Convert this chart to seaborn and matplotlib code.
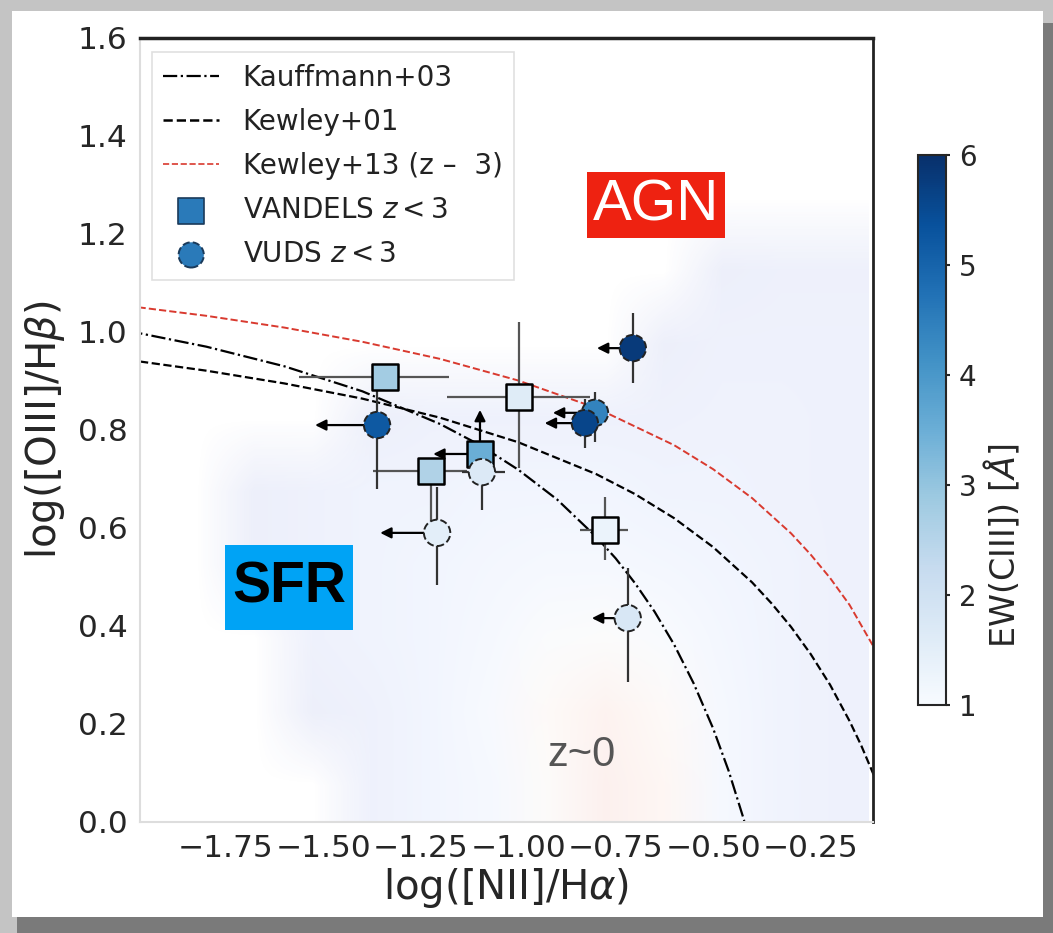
import numpy as np
import matplotlib
matplotlib.use("Agg")
import matplotlib.pyplot as plt
import matplotlib.patches as mpatches
from matplotlib.colors import Normalize
from matplotlib.cm import ScalarMappable
from matplotlib.lines import Line2D
import seaborn as sns
import pandas as pd

# ── Demarcation lines ──────────────────────────────────────────────────────
kauff_x = [-2.0, -1.8, -1.6, -1.4, -1.2, -1.1, -1.0, -0.9, -0.8, -0.75, -0.7,
           -0.65, -0.6, -0.55, -0.5, -0.46, -0.42]
kauff_y = [1.002, 0.970, 0.930, 0.879, 0.812, 0.770, 0.719, 0.658, 0.582, 0.538,
           0.487, 0.429, 0.362, 0.283, 0.191, 0.104, 0.002]
kew01_x = [-2.0, -1.8, -1.6, -1.4, -1.2, -1.0, -0.8, -0.7, -0.6, -0.5, -0.4,
           -0.35, -0.3, -0.25, -0.2, -0.15, -0.12, -0.08]
kew01_y = [0.943, 0.921, 0.895, 0.864, 0.825, 0.775, 0.710, 0.669, 0.620, 0.561,
           0.489, 0.446, 0.398, 0.343, 0.280, 0.206, 0.156, 0.081]
kew13_x = [-2.0, -1.8, -1.6, -1.4, -1.2, -1.0, -0.8, -0.6, -0.5, -0.4, -0.3,
           -0.25, -0.2, -0.15, -0.08]
kew13_y = [1.053, 1.033, 1.009, 0.980, 0.945, 0.901, 0.845, 0.769, 0.720, 0.661,
           0.589, 0.546, 0.498, 0.443, 0.346]

# ── VANDELS (squares) ──────────────────────────────────────────────────────
sq_x = [-1.342, -0.998, -1.224, -1.098, -0.778]
sq_y = [0.908, 0.867, 0.716, 0.751, 0.596]
sq_ew = [2.8, 1.6, 2.6, 3.5, 1.3]
sq_xerr_lo = [0.22, 0.185, 0.149, 0.0, 0.064]
sq_xerr_hi = [0.165, 0.182, 0.092, 0.0, 0.059]
sq_yerr_lo = [0.02, 0.145, 0.12, 0.0, 0.061]
sq_yerr_hi = [0.02, 0.153, 0.0, 0.0, 0.067]
sq_xlim = [0.0, 0.0, 0.0, 0.12, 0.0]    # left arrows (upper limits)
sq_ylim = [0.0, 0.0, 0.0, 0.09, 0.0]    # up arrows (lower limits)

# ── VUDS (circles) ─────────────────────────────────────────────────────────
ci_x = [-1.362, -1.093, -1.208, -0.706, -0.803, -0.829, -0.719]
ci_y = [0.810, 0.714, 0.590, 0.967, 0.835, 0.814, 0.416]
ci_ew = [5.2, 1.7, 1.5, 5.8, 4.4, 5.6, 1.8]
ci_xerr_lo = [0.0, 0.05, 0.0, 0.0, 0.0, 0.0, 0.0]
ci_xerr_hi = [0.0, 0.06, 0.0, 0.0, 0.0, 0.0, 0.0]
ci_yerr_lo = [0.13, 0.077, 0.106, 0.071, 0.06, 0.051, 0.13]
ci_yerr_hi = [0.072, 0.04, 0.094, 0.072, 0.043, 0.05, 0.102]
ci_xlim = [0.159, 0.0, 0.146, 0.092, 0.108, 0.103, 0.092]

# ── z~0 SDSS background density (coarse) ──────────────────────────────────
bg_extent = [-1.90, -0.10, 0.0, 1.35]
bg_density = [
    [0.00, 0.00, 0.00, 0.10, 0.20, 0.30, 0.55, 0.85, 0.70, 0.30, 0.15, 0.10],
    [0.00, 0.00, 0.05, 0.10, 0.20, 0.35, 0.60, 0.80, 0.60, 0.30, 0.15, 0.10],
    [0.00, 0.00, 0.10, 0.15, 0.20, 0.30, 0.45, 0.50, 0.40, 0.25, 0.15, 0.10],
    [0.00, 0.05, 0.10, 0.15, 0.20, 0.25, 0.30, 0.30, 0.25, 0.20, 0.15, 0.10],
    [0.00, 0.05, 0.10, 0.15, 0.15, 0.20, 0.20, 0.20, 0.15, 0.15, 0.12, 0.10],
    [0.00, 0.00, 0.00, 0.05, 0.10, 0.10, 0.10, 0.10, 0.10, 0.12, 0.12, 0.10],
    [0.00, 0.00, 0.00, 0.00, 0.00, 0.00, 0.00, 0.00, 0.05, 0.10, 0.10, 0.10],
    [0.00, 0.00, 0.00, 0.00, 0.00, 0.00, 0.00, 0.00, 0.00, 0.05, 0.08, 0.08],
    [0.00, 0.00, 0.00, 0.00, 0.00, 0.00, 0.00, 0.00, 0.00, 0.00, 0.00, 0.00],
]

x_ticks = [-1.75, -1.50, -1.25, -1.00, -0.75, -0.50, -0.25]
y_ticks = [0.0, 0.2, 0.4, 0.6, 0.8, 1.0, 1.2, 1.4, 1.6]
cb_ticks = [1, 2, 3, 4, 5, 6]

sns.set_style("white")
plt.rcParams["font.family"] = ["DejaVu Sans"]

fig = plt.figure(figsize=(10.53, 9.33), dpi=100)
fig.patch.set_facecolor("#c4c4c4")
# screenshot-like white card with a shadow
fig.patches.append(mpatches.Rectangle((0.016, 0.0), 0.984, 0.975, transform=fig.transFigure,
                                      facecolor="#7a7a7a", edgecolor="none", zorder=-3))
fig.patches.append(mpatches.Rectangle((0.0114, 0.0171), 0.9791, 0.9711, transform=fig.transFigure,
                                      facecolor="white", edgecolor="none", zorder=-2))

ax = fig.add_axes([0.133, 0.119, 0.696, 0.8403])
cax = fig.add_axes([0.872, 0.2444, 0.0266, 0.5895])
ax.set_facecolor("none")

# background density
dens = np.array(bg_density)
rgba = plt.get_cmap("coolwarm")(dens)
rgba[..., 3] = np.where(dens > 0, 0.10, 0.0)
ax.imshow(rgba, extent=bg_extent, origin="lower", aspect="auto",
          interpolation="bilinear", zorder=0)

# demarcation lines
ax.plot(kauff_x, kauff_y, color="black", ls="-.", lw=1.6, zorder=2)
ax.plot(kew01_x, kew01_y, color="black", ls="--", lw=1.6, zorder=2)
ax.plot(kew13_x, kew13_y, color="#d93a2f", ls="--", lw=1.4, zorder=2)

# error bars
ax.errorbar(sq_x, sq_y, xerr=[sq_xerr_lo, sq_xerr_hi], yerr=[sq_yerr_lo, sq_yerr_hi],
            fmt="none", ecolor="#555555", elinewidth=1.6, capsize=0, zorder=3)
ax.errorbar(ci_x, ci_y, xerr=[ci_xerr_lo, ci_xerr_hi], yerr=[ci_yerr_lo, ci_yerr_hi],
            fmt="none", ecolor="#333333", elinewidth=1.6, capsize=0, zorder=3)

# limit arrows
arrow_kw = dict(arrowstyle="-|>", color="black", lw=1.6, mutation_scale=16,
                shrinkA=0, shrinkB=0)
for x, y, dx, dy in zip(sq_x + ci_x, sq_y + ci_y, sq_xlim + ci_xlim, sq_ylim + [0.0] * len(ci_x)):
    if dx > 0:
        ax.annotate("", xy=(x - dx, y), xytext=(x, y), arrowprops=arrow_kw, zorder=3)
    if dy > 0:
        ax.annotate("", xy=(x, y + dy), xytext=(x, y), arrowprops=arrow_kw, zorder=3)

# points
norm = Normalize(1, 6)
sq_df = pd.DataFrame({"x": sq_x, "y": sq_y, "ew": sq_ew})
ci_df = pd.DataFrame({"x": ci_x, "y": ci_y, "ew": ci_ew})
sns.scatterplot(data=sq_df, x="x", y="y", hue="ew", palette="Blues", hue_norm=norm,
                marker="s", s=360, edgecolor="black", linewidth=1.8, legend=False,
                ax=ax, zorder=4)
sns.scatterplot(data=ci_df, x="x", y="y", hue="ew", palette="Blues", hue_norm=norm,
                marker="o", s=360, edgecolor="#222222", linewidth=1.4, linestyle="--",
                legend=False, ax=ax, zorder=4)

# legend proxies
handles = [
    Line2D([], [], color="black", ls="-.", lw=1.6, label="Kauffmann+03"),
    Line2D([], [], color="black", ls="--", lw=1.8, label="Kewley+01"),
    Line2D([], [], color="#d93a2f", ls="--", lw=1.2, label="Kewley+13 (z –  3)"),
    ax.scatter([], [], marker="s", s=330, c="#2a7ab9", edgecolor="#1a3a5a", linewidth=1.2,
               label="VANDELS $z < 3$"),
    ax.scatter([], [], marker="o", s=330, c="#2a7ab9", edgecolor="#1a3a5a", linewidth=1.4,
               linestyle="--", label="VUDS $z < 3$"),
]
leg = ax.legend(handles=handles, loc="upper left", fontsize=20, handlelength=2.0,
                labelspacing=0.58, borderpad=0.42, handletextpad=0.85, frameon=True,
                fancybox=False, edgecolor="#d8d8d8", borderaxespad=0,
                bbox_to_anchor=(0.016, 0.982))
leg.get_frame().set_linewidth(1.2)
for t in leg.get_texts():
    t.set_color("#222222")

# region labels
ax.text(-0.647, 1.259, "AGN", color="white", fontsize=42, family="Liberation Sans",
        ha="center", va="center", zorder=6,
        bbox=dict(boxstyle="square,pad=0.1", facecolor="#ee2211", edgecolor="none"))
ax.add_patch(mpatches.Rectangle((0.116, 0.245), 0.1746, 0.1084, transform=ax.transAxes,
                                facecolor="#00a3f5", edgecolor="none", zorder=5))
ax.text(0.2033, 0.299, "SFR", color="black", fontsize=41, family="Liberation Sans",
        fontweight="bold", ha="center", va="center", transform=ax.transAxes, zorder=6)
ax.text(-0.837, 0.137, "z~0", color="#555555", fontsize=30, family="Liberation Sans",
        ha="center", va="center", zorder=6)

ax.set_xlim(-1.97, -0.09)
ax.set_ylim(0.0, 1.6)
ax.set_xticks(x_ticks)
ax.set_yticks(y_ticks)
ax.tick_params(axis="both", labelsize=22.5, length=3, width=2, direction="out",
               color="black", pad=6)
ax.set_xlabel(r"log([NII]/H$\alpha$)", fontsize=29, labelpad=2)
ax.set_ylabel(r"log([OIII]/H$\beta$)", fontsize=29, labelpad=8)
for side in ["left", "bottom"]:
    ax.spines[side].set_color("#dddddd")
    ax.spines[side].set_linewidth(1.5)
ax.spines["top"].set_color("#222222")
ax.spines["top"].set_linewidth(2.5)
ax.spines["right"].set_color("#222222")
ax.spines["right"].set_linewidth(2.0)

# colorbar
cb = fig.colorbar(ScalarMappable(norm=norm, cmap="Blues"), cax=cax)
cb.set_ticks(cb_ticks)
cb.ax.tick_params(labelsize=20, length=3, width=1.5, pad=6)
cb.outline.set_linewidth(1.5)
cb.set_label(r"EW(CIII]) [$\AA$]", fontsize=24)
cb.ax.yaxis.set_label_coords(2.3, 0.29)

fig.savefig("out.png", dpi=100, facecolor=fig.get_facecolor())
